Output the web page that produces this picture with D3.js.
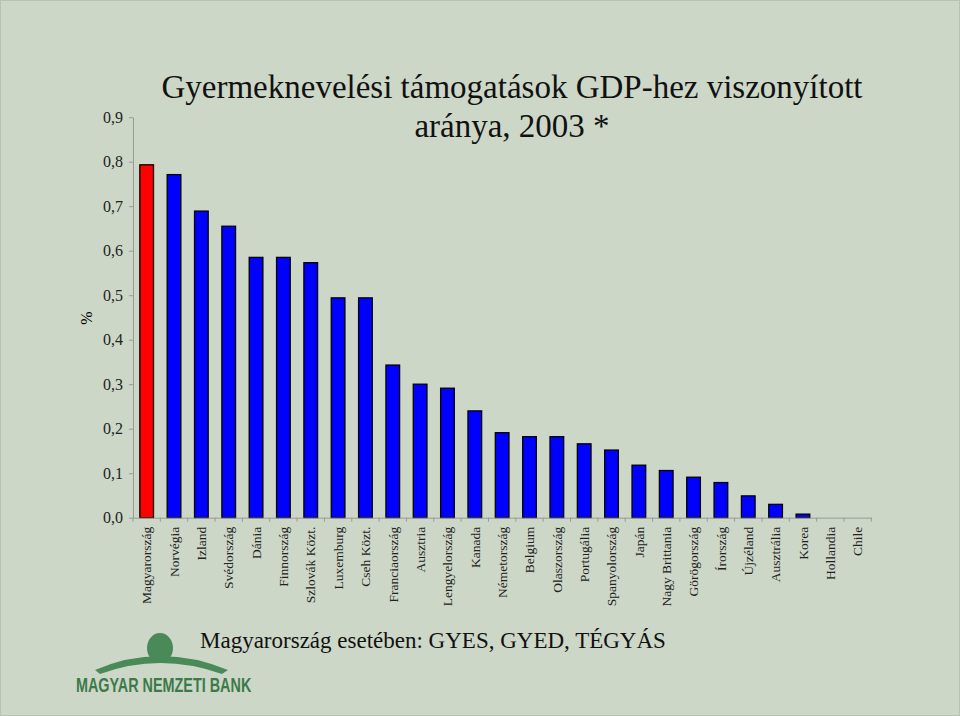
<!DOCTYPE html>
<html><head><meta charset="utf-8">
<script src="https://cdn.jsdelivr.net/npm/d3@7"></script>
<style>body{margin:0;background:#cdd7c7}svg{display:block}
text{font-family:"Liberation Serif","Times New Roman","DejaVu Serif",serif}</style>
</head><body>
<script>
const categories = ["Magyarország","Norvégia","Izland","Svédország","Dánia","Finnország","Szlovák Közt.","Luxemburg","Cseh Közt.","Franciaország","Ausztria","Lengyelország","Kanada","Németország","Belgium","Olaszország","Portugália","Spanyolország","Japán","Nagy Brittania","Görögország","Írország","Újzéland","Ausztrália","Korea","Hollandia","Chile"];
const values = [0.793,0.771,0.689,0.655,0.585,0.585,0.573,0.494,0.494,0.343,0.300,0.291,0.240,0.191,0.182,0.182,0.166,0.152,0.118,0.106,0.091,0.079,0.049,0.030,0.008,0,0];
const yTicks = [0,0.1,0.2,0.3,0.4,0.5,0.6,0.7,0.8,0.9];

const W=960,H=716;
const svg=d3.select("body").append("svg").attr("width",W).attr("height",H);
svg.append("rect").attr("width",W).attr("height",H).attr("fill","#cdd7c7");
svg.append("rect").attr("x",0.5).attr("y",0.5).attr("width",W-1).attr("height",H-1).attr("fill","none").attr("stroke","#b8c2b2");

const x0=133, x1=133+27*26.9+12;
const x=d3.scaleBand().domain(categories).range([x0,x1]).paddingInner(0.5).paddingOuter(0.25);
const y=d3.scaleLinear().domain([0,0.9]).range([517.7,117.2]);
const fmt=d=>d3.format(".1f")(d).replace(".",",");

const ya=svg.append("g").attr("transform",`translate(${x0},0)`)
  .call(d3.axisLeft(y).tickValues(yTicks).tickFormat(fmt).tickSize(4).tickSizeOuter(0));
ya.attr("font-family",null);
ya.select(".domain").attr("stroke","#999");
ya.selectAll("line").attr("stroke","#999");
ya.selectAll("text").attr("font-size",16).attr("fill","#222").attr("dx",-3);

svg.append("g").selectAll("rect").data(values).join("rect")
  .attr("x",(d,i)=>x(categories[i])).attr("width",x.bandwidth())
  .attr("y",d=>y(d)).attr("height",d=>y(0)-y(d))
  .attr("fill",(d,i)=>i===0?"#ff0000":"#0000ff").attr("stroke","#000").attr("stroke-width",1.3);

const xa=svg.append("g").attr("transform",`translate(0,${y(0)})`)
  .call(d3.axisBottom(x).tickSize(0).tickSizeOuter(0));
xa.attr("font-family",null);
xa.select(".domain").attr("stroke","#999");
const step=x.step();
svg.append("g").selectAll("line").data(d3.range(categories.length+1)).join("line")
  .attr("x1",i=>x0+i*step).attr("x2",i=>x0+i*step).attr("y1",y(0)).attr("y2",y(0)+4).attr("stroke","#999");
xa.selectAll("text").attr("font-size",13.5).attr("fill","#222")
  .attr("transform","rotate(-90)").attr("text-anchor","end").attr("x",-9).attr("y",0).attr("dy","0.35em");

svg.append("text").attr("x",92).attr("y",318).attr("transform","rotate(-90,92,318)").attr("text-anchor","middle")
  .attr("font-size",16).text("%");

const t=svg.append("text").attr("font-size",33).attr("text-anchor","middle").attr("fill","#111");
t.append("tspan").attr("x",512).attr("y",98).text("Gyermeknevelési támogatások GDP-hez viszonyított");
t.append("tspan").attr("x",512).attr("y",137).text("aránya, 2003 *");

svg.append("text").attr("x",200).attr("y",648).attr("font-size",23).attr("fill","#111")
  .text("Magyarország esetében: GYES, GYED, TÉGYÁS");

svg.append("text").attr("x",0).attr("y",0).attr("transform","translate(76,692) scale(0.72,1)")
  .style("font-family","'Liberation Sans',sans-serif").attr("font-weight","bold")
  .attr("font-size",20).attr("fill","#3c7a4a").text("MAGYAR NEMZETI BANK");
svg.append("path").attr("d","M95,670 Q160,642 228,670 L222,674 Q160,652 100,674 Z").attr("fill","#4a8a58");
svg.append("ellipse").attr("cx",160).attr("cy",648).attr("rx",13).attr("ry",15).attr("fill","#4a8a58");
</script>
</body></html>
